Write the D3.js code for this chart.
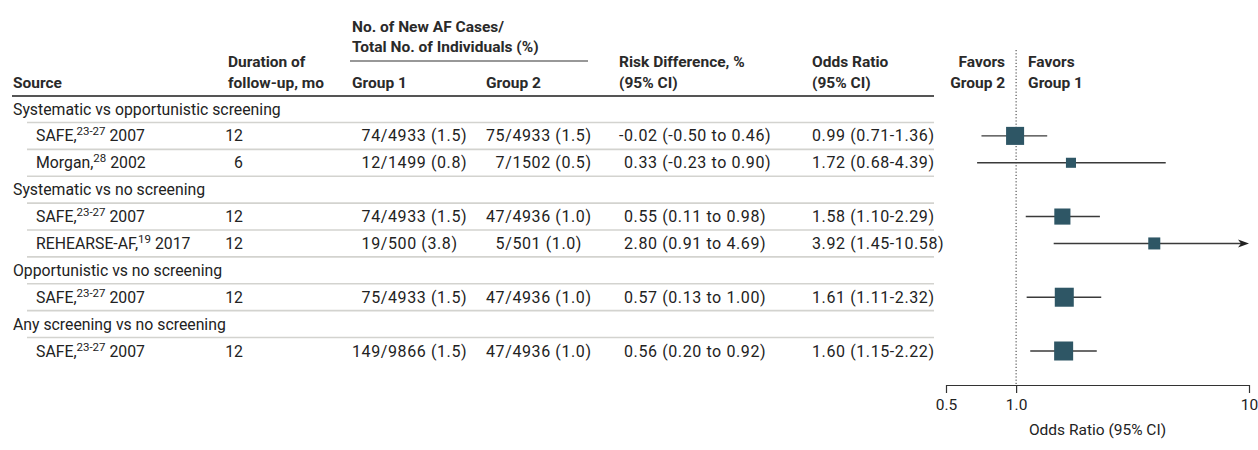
<!DOCTYPE html>
<html>
<head>
<meta charset="utf-8">
<script src="https://cdn.jsdelivr.net/npm/d3@7"></script>
<style>
  body { margin: 0; background: #fff; }
  svg { display: block; font-family: Roboto, "Noto Sans", sans-serif; }
</style>
</head>
<body>
<svg></svg>
<script>
// comparison headings, and which heading each study sits under
const comparisons = [
  'Systematic vs opportunistic screening',
  'Systematic vs no screening',
  'Opportunistic vs no screening',
  'Any screening vs no screening'
];
const studyComparison = [0, 0, 1, 1, 2, 3];
const studyNames = ['SAFE', 'Morgan', 'SAFE', 'REHEARSE-AF', 'SAFE', 'SAFE'];
const studyRefs = ['23-27', '28', '23-27', '19', '23-27', '23-27'];
const studyYears = [2007, 2002, 2007, 2017, 2007, 2007];
const followUp = [12, 6, 12, 12, 12, 12];

const group1Cases = [74, 12, 74, 19, 75, 149];
const group1Total = [4933, 1499, 4933, 500, 4933, 9866];
const group1Pct = [1.5, 0.8, 1.5, 3.8, 1.5, 1.5];
const group2Cases = [75, 7, 47, 5, 47, 47];
const group2Total = [4933, 1502, 4936, 501, 4936, 4936];
const group2Pct = [1.5, 0.5, 1.0, 1.0, 1.0, 1.0];

const riskDiff = [-0.02, 0.33, 0.55, 2.80, 0.57, 0.56];
const riskLo = [-0.50, -0.23, 0.11, 0.91, 0.13, 0.20];
const riskHi = [0.46, 0.90, 0.98, 4.69, 1.00, 0.92];

const oddsRatio = [0.99, 1.72, 1.58, 3.92, 1.61, 1.60];
const orLo = [0.71, 0.68, 1.10, 1.45, 1.11, 1.15];
const orHi = [1.36, 4.39, 2.29, 10.58, 2.32, 2.22];
const studyWeight = [90, 28, 72, 40, 100, 100];

const orTicks = [0.5, 1, 10];
const orTickLabels = ['0.5', '1.0', '10'];
const orMinorTicks = [0.6, 0.7, 0.8, 0.9, 2, 3, 4, 5, 6, 7, 8, 9];

const svg = d3.select('svg').attr('width', 1258).attr('height', 450);

const ink = '#222';
const boxColor = '#2e5665';
const f1 = d3.format('.1f');
const f2 = v => d3.format('.2f')(v).replace('\u2212', '-');

// build row list: heading then its studies
const rows = [];
comparisons.forEach((c, ci) => {
  rows.push({ type: 'head', label: c });
  studyNames.forEach((n, i) => {
    if (studyComparison[i] === ci) rows.push({ type: 'study', i: i });
  });
});

const yRow = d3.scaleLinear().domain([0, rows.length - 1]).range([109, 351]);
const step = yRow(1) - yRow(0);
const x = d3.scaleLog().domain([0.5, 10]).range([946, 1249]);
const boxSize = d3.scaleSqrt().domain([0, 100]).range([0, 19]);

// column anchors
const col = { src: 13, srcIndent: 36, dur: 228, durRight: 243, g1: 352, g2: 486, rd: 619, or: 812 };

// ---------- header ----------
const head = svg.append('g')
  .attr('font-weight', 'bold')
  .attr('font-size', 15.5)
  .attr('fill', '#2a2a2a');

const headText = (t, xx, yy, anchor) => head.append('text')
  .attr('x', xx).attr('y', yy).attr('dy', '0.35em')
  .attr('text-anchor', anchor || 'start').text(t);

headText('No. of New AF Cases/', col.g1, 27);
headText('Total No. of Individuals (%)', col.g1, 47);
headText('Source', col.src, 83);
headText('Duration of', col.dur, 62);
headText('follow-up, mo', col.dur, 83);
headText('Group 1', col.g1, 83);
headText('Group 2', col.g2, 83);
headText('Risk Difference, %', col.rd, 62);
headText('(95% CI)', col.rd, 83);
headText('Odds Ratio', col.or, 62);
headText('(95% CI)', col.or, 83);
headText('Favors', x(1) - 11, 62, 'end');
headText('Group 2', x(1) - 11, 83, 'end');
headText('Favors', x(1) + 12, 62);
headText('Group 1', x(1) + 12, 83);

svg.append('line')
  .attr('x1', 350).attr('x2', 588).attr('y1', 61).attr('y2', 61)
  .attr('stroke', '#333').attr('stroke-width', 1.2);
svg.append('line')
  .attr('x1', 12).attr('x2', 934).attr('y1', 96).attr('y2', 96)
  .attr('stroke', '#555').attr('stroke-width', 2);

// ---------- row separators ----------
svg.append('g').selectAll('line')
  .data(rows.slice(0, -1))
  .enter().append('line')
  .attr('x1', 27).attr('x2', 934)
  .attr('y1', (d, r) => yRow(r) + step / 2)
  .attr('y2', (d, r) => yRow(r) + step / 2)
  .attr('stroke', '#d3d3cf').attr('stroke-width', 1.6);

// ---------- table body ----------
const body = svg.append('g').attr('font-size', 15.8).attr('fill', ink);
const nums = svg.append('g').attr('font-size', 16).attr('letter-spacing', 0.6).attr('fill', ink);

// measure helper for alignment on slash / first number
const measure = t => {
  const n = nums.append('text').text(t);
  const w = n.node().getComputedTextLength();
  n.remove();
  return w;
};
const g1Slash = col.g1 + d3.max(group1Cases, c => measure(String(c)));
const g2Slash = col.g2 + d3.max(group2Cases, c => measure(String(c)));
const rdSplit = col.rd + d3.max(riskDiff, v => measure(f2(v)));

const numText = (t, xx, yy, anchor) => nums.append('text')
  .attr('x', xx).attr('y', yy).attr('dy', '0.35em')
  .attr('text-anchor', anchor || 'start').text(t);

rows.forEach((r, ri) => {
  const yy = yRow(ri);
  if (r.type === 'head') {
    body.append('text').attr('x', col.src).attr('y', yy).attr('dy', '0.35em').text(r.label);
    return;
  }
  const i = r.i;
  const t = body.append('text').attr('x', col.srcIndent).attr('y', yy).attr('dy', '0.35em');
  t.append('tspan').text(studyNames[i] + ',');
  t.append('tspan').attr('font-size', 11.5).attr('dy', -6).text(studyRefs[i]);
  t.append('tspan').attr('dy', 6).text(' ' + studyYears[i]);

  body.append('text').attr('x', col.durRight).attr('y', yy).attr('dy', '0.35em')
    .attr('text-anchor', 'end').text(followUp[i]);

  numText(group1Cases[i], g1Slash, yy, 'end');
  numText('/' + group1Total[i] + ' (' + f1(group1Pct[i]) + ')', g1Slash, yy);

  numText(group2Cases[i], g2Slash, yy, 'end');
  numText('/' + group2Total[i] + ' (' + f1(group2Pct[i]) + ')', g2Slash, yy);

  numText(f2(riskDiff[i]), rdSplit, yy, 'end');
  numText('\u00a0(' + f2(riskLo[i]) + ' to ' + f2(riskHi[i]) + ')', rdSplit, yy);

  numText(f2(oddsRatio[i]) + ' (' + f2(orLo[i]) + '-' + f2(orHi[i]) + ')', col.or, yy);
});

// ---------- forest plot ----------
const axisY = 385;

svg.append('line')
  .attr('x1', x(1)).attr('x2', x(1)).attr('y1', 50).attr('y2', axisY)
  .attr('stroke', '#333').attr('stroke-width', 1)
  .attr('stroke-dasharray', '1.2,2');

const plot = svg.append('g');
rows.forEach((r, ri) => {
  if (r.type !== 'study') return;
  const i = r.i;
  const yy = yRow(ri);
  const capped = orHi[i] > x.domain()[1];
  const xEnd = capped ? x(x.domain()[1]) : x(orHi[i]);
  plot.append('line')
    .attr('x1', x(orLo[i])).attr('x2', capped ? xEnd - 6 : xEnd)
    .attr('y1', yy).attr('y2', yy)
    .attr('stroke', '#3a3a3a').attr('stroke-width', 1.4);
  if (capped) {
    plot.append('path')
      .attr('d', `M${xEnd},${yy} L${xEnd - 11},${yy - 4} L${xEnd - 8},${yy} L${xEnd - 11},${yy + 4} Z`)
      .attr('fill', '#222');
  }
  const s = boxSize(studyWeight[i]);
  plot.append('rect')
    .attr('x', x(oddsRatio[i]) - s / 2).attr('y', yy - s / 2)
    .attr('width', s).attr('height', s)
    .attr('fill', boxColor);
});

// axis
const axisG = svg.append('g').attr('transform', `translate(0,${axisY})`);
axisG.call(d3.axisBottom(x).tickValues(orMinorTicks).tickSize(5).tickSizeOuter(0).tickFormat(''));
axisG.call(d3.axisBottom(x).tickValues(orTicks).tickSize(8).tickSizeOuter(0).tickPadding(6)
  .tickFormat((d, k) => orTickLabels[k]));
axisG.selectAll('path, line').attr('stroke', '#333').attr('stroke-width', 1.2);
axisG.selectAll('text').attr('font-size', 15.5).attr('fill', ink)
  .attr('font-family', 'Roboto, "Noto Sans", sans-serif');

svg.append('text')
  .attr('x', (x.range()[0] + x.range()[1]) / 2).attr('y', 430).attr('dy', '0.35em')
  .attr('text-anchor', 'middle').attr('font-size', 15.5).attr('fill', ink)
  .text('Odds Ratio (95% CI)');
</script>
</body>
</html>
